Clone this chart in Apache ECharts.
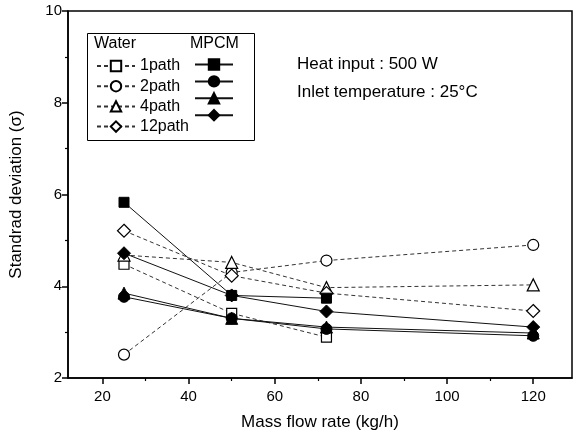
<!DOCTYPE html>
<html>
<head>
<meta charset="utf-8">
<script src="https://cdn.jsdelivr.net/npm/echarts@6/dist/echarts.min.js"></script>
<style>
  html, body { margin: 0; padding: 0; background: #fff; }
  #chart { width: 575px; height: 439px; }
</style>
</head>
<body>
<div id="chart"></div>
<script>
// Flow rate (kg/h) at which each case was measured
var flowRates = [25, 50, 72, 120];

// Water (open markers, dashed)
var water1 = [4.48, 3.41, 2.89];
var water2 = [2.51, 4.30, 4.56, 4.90];
var water4 = [4.68, 4.52, 3.97, 4.03];
var water12 = [5.21, 4.23, 3.85, 3.46];

// MPCM slurry (filled markers, solid)
var mpcm1 = [5.83, 3.80, 3.74];
var mpcm2 = [3.77, 3.30, 3.07, 2.92];
var mpcm4 = [3.85, 3.30, 3.11, 2.98];
var mpcm12 = [4.72, 3.80, 3.45, 3.11];

var pathNames = ["1path", "2path", "4path", "12path"];
var shapes = ["rect", "circle", "triangle", "diamond"];
var sizes = [10, 11, 12, 13];
var xMajor = [20, 40, 60, 80, 100, 120];
var xMinor = [30, 50, 70, 90, 110];

var FONT = "Liberation Sans, Arial, sans-serif";

function pts(vals) {
  return vals.map(function (v, i) { return [flowRates[i], v]; });
}

function waterSeries(i, vals) {
  return {
    name: pathNames[i], type: "line", data: pts(vals),
    symbol: shapes[i], symbolSize: sizes[i],
    lineStyle: { color: "#333", width: 1, type: [4, 3] },
    itemStyle: { color: "#fff", borderColor: "#000", borderWidth: 1.2 },
    z: 2
  };
}
function mpcmSeries(i, vals) {
  return {
    name: pathNames[i] + " MPCM", type: "line", data: pts(vals),
    symbol: shapes[i], symbolSize: sizes[i],
    lineStyle: { color: "#111", width: 1, type: "solid" },
    itemStyle: { color: "#000", borderColor: "#000", borderWidth: 1 },
    z: 3
  };
}

var chart = echarts.init(document.getElementById("chart"));
chart.setOption({
  animation: false,
  backgroundColor: "#fff",
  grid: { left: 66, right: 3, top: 11, bottom: 61, show: true, borderColor: "#000", borderWidth: 1.5 },
  xAxis: [{
    type: "value", min: 12, max: 129,
    name: "Mass flow rate (kg/h)", nameLocation: "middle", nameGap: 36,
    nameTextStyle: { fontFamily: FONT, fontSize: 17, color: "#000" },
    axisLine: { show: true, lineStyle: { color: "#000", width: 1.5 } },
    axisTick: { show: true, inside: false, length: 6, customValues: xMajor, lineStyle: { color: "#000", width: 1.5 } },
    axisLabel: { customValues: xMajor, fontFamily: FONT, fontSize: 15, color: "#000", margin: 11 },
    splitLine: { show: false }
  }, {
    type: "value", min: 12, max: 129, position: "bottom",
    axisLine: { show: false },
    axisTick: { show: true, length: 3, customValues: xMinor, lineStyle: { color: "#000", width: 1.2 } },
    axisLabel: { show: false },
    splitLine: { show: false }
  }],
  yAxis: {
    type: "value", min: 2, max: 10, interval: 2,
    name: "Standrad deviation (\u03c3)", nameLocation: "middle", nameGap: 43,
    nameTextStyle: { fontFamily: FONT, fontSize: 17, color: "#000" },
    axisLine: { show: true, lineStyle: { color: "#000", width: 1.5 } },
    axisTick: { show: true, length: 6, lineStyle: { color: "#000", width: 1.5 } },
    minorTick: { show: true, splitNumber: 2, length: 3, lineStyle: { color: "#000", width: 1.2 } },
    axisLabel: { fontFamily: FONT, fontSize: 15, color: "#000", margin: 6 },
    splitLine: { show: false }
  },
  legend: [{
    orient: "vertical", left: 91, top: 53,
    itemWidth: 38, itemHeight: 13, itemGap: 4.2,
    textStyle: { fontFamily: FONT, fontSize: 16, color: "#000" },
    data: pathNames
  }, {
    orient: "vertical", left: 189, top: 53,
    itemWidth: 38, itemHeight: 13, itemGap: 4.2,
    formatter: function () { return ""; },
    textStyle: { fontSize: 16 },
    data: pathNames.map(function (n) { return n + " MPCM"; })
  }],
  graphic: [
    { type: "rect", left: 85, top: 31, shape: { width: 167, height: 107 },
      style: { fill: "none", stroke: "#000", lineWidth: 1 }, silent: true },
    { type: "text", left: 94, top: 36,
      style: { text: "Water", font: "16px " + FONT, fill: "#000" } },
    { type: "text", left: 190, top: 36,
      style: { text: "MPCM", font: "16px " + FONT, fill: "#000" } },
    { type: "text", left: 297, top: 56,
      style: { text: "Heat input : 500 W", font: "17px " + FONT, fill: "#000" } },
    { type: "text", left: 297, top: 84,
      style: { text: "Inlet temperature : 25\u00b0C", font: "17px " + FONT, fill: "#000" } }
  ],
  series: [
    waterSeries(0, water1), waterSeries(1, water2), waterSeries(2, water4), waterSeries(3, water12),
    mpcmSeries(0, mpcm1), mpcmSeries(1, mpcm2), mpcmSeries(2, mpcm4), mpcmSeries(3, mpcm12)
  ]
});
</script>
</body>
</html>
